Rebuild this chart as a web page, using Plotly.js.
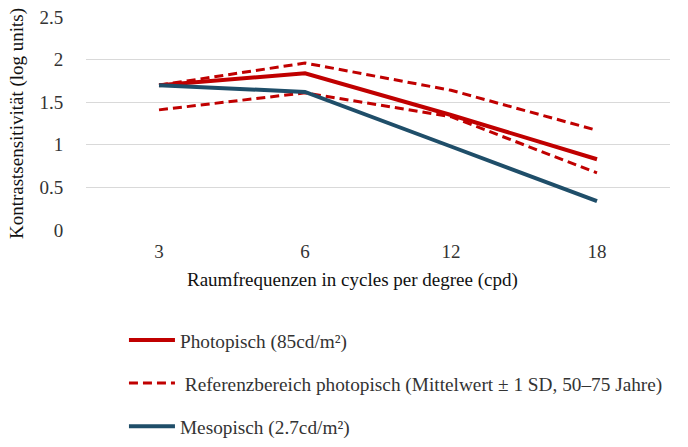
<!DOCTYPE html>
<html>
<head>
<meta charset="utf-8">
<script src="https://cdn.plot.ly/plotly-3.0.1.min.js"></script>
<style>
  html, body { margin: 0; padding: 0; background: #fff; }
  #chart { width: 688px; height: 447px; }
</style>
</head>
<body>
<div id="chart"></div>
<script>
// spatial frequencies (cpd)
var frequencies = ['3', '6', '12', '18'];

// contrast sensitivity, log units
var photopic = [1.70, 1.84, 1.35, 0.83];
var mesopic = [1.70, 1.62, 0.98, 0.34];
var refUpper = [1.70, 1.96, 1.64, 1.17];
var refLower = [1.41, 1.61, 1.33, 0.67];

var red = '#c00000';
var blue = '#1f4e69';
var serif = 'Liberation Serif';

var data = [
  {
    x: frequencies, y: photopic, type: 'scatter', mode: 'lines',
    name: 'Photopisch (85cd/m²)', legendgroup: 'a',
    line: { color: red, width: 4 }
  },
  {
    x: frequencies, y: refUpper, type: 'scatter', mode: 'lines',
    name: ' Referenzbereich photopisch (Mittelwert ± 1 SD, 50–75 Jahre)', legendgroup: 'b',
    line: { color: red, width: 3, dash: '9px,5px' }
  },
  {
    x: frequencies, y: refLower, type: 'scatter', mode: 'lines',
    name: 'lower', legendgroup: 'b', showlegend: false,
    line: { color: red, width: 3, dash: '9px,5px' }
  },
  {
    x: frequencies, y: mesopic, type: 'scatter', mode: 'lines',
    name: 'Mesopisch (2.7cd/m²)', legendgroup: 'c',
    line: { color: blue, width: 4 }
  }
];

var layout = {
  width: 688,
  height: 447,
  margin: { l: 86, r: 18, t: 17, b: 217 },
  paper_bgcolor: '#fff',
  plot_bgcolor: '#fff',
  font: { family: serif, size: 18, color: '#222' },
  showlegend: true,
  legend: {
    orientation: 'v',
    xref: 'paper', x: 0.065, xanchor: 'left',
    yref: 'container', y: 0.282, yanchor: 'top',
    itemwidth: 46,
    tracegroupgap: 15,
    font: { family: serif, size: 19.3, color: '#333' },
    bgcolor: 'rgba(0,0,0,0)'
  },
  // x axis title, placed like the original (slightly left of centre)
  annotations: [{
    text: 'Raumfrequenzen in cycles per degree (cpd)',
    xref: 'paper', yref: 'paper',
    x: 0.457, y: -0.235, xanchor: 'center', yanchor: 'middle',
    showarrow: false,
    font: { family: serif, size: 19, color: '#111' }
  }],
  xaxis: {
    type: 'category',
    range: [-0.5, 3.5],
    automargin: false,
    showgrid: false,
    showline: false,
    zeroline: false,
    ticks: '',
    ticklabelstandoff: 8,
    tickfont: { family: serif, size: 19, color: '#333' }
  },
  yaxis: {
    range: [0, 2.5],
    dtick: 0.5,
    automargin: false,
    showgrid: true,
    gridcolor: '#d9d9d9',
    gridwidth: 1,
    zeroline: false,
    showline: false,
    ticks: 'outside',
    ticklen: 6,
    tickcolor: 'rgba(0,0,0,0)',
    ticklabelstandoff: 12,
    tickfont: { family: serif, size: 19, color: '#333' },
    title: { text: 'Kontrastsensitivität (log units)', standoff: 10,
             font: { family: serif, size: 19, color: '#111' } }
  }
};

Plotly.newPlot('chart', data, layout, { displayModeBar: false, staticPlot: true });
</script>
</body>
</html>
